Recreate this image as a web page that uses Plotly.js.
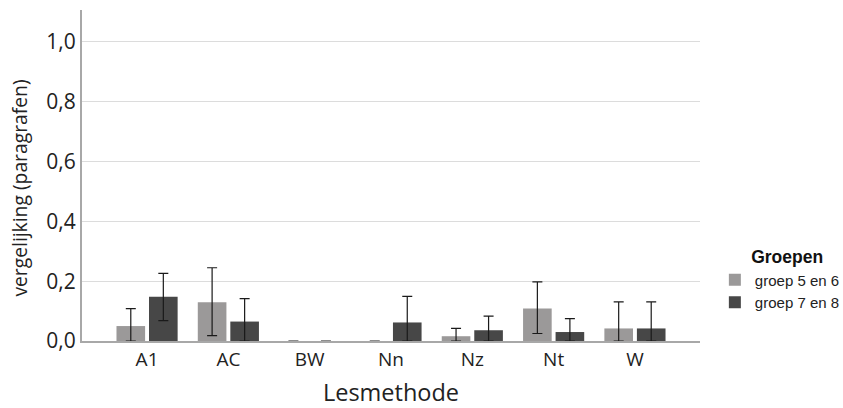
<!DOCTYPE html>
<html>
<head>
<meta charset="utf-8">
<script src="https://cdn.plot.ly/plotly-3.0.1.min.js"></script>
<style>html,body{margin:0;padding:0;background:#fff;}#chart{width:843px;height:408px;}</style>
</head>
<body>
<div id="chart"></div>
<script>
var categories = ["A1", "AC", "BW", "Nn", "Nz", "Nt", "W"];
var seriesNames = ["groep 5 en 6", "groep 7 en 8"];
var groep56 = [0.050, 0.130, 0.000, 0.000, 0.016, 0.109, 0.042];
var groep56Upper = [0.108, 0.245, 0.000, 0.000, 0.042, 0.198, 0.131];
var groep56Lower = [0.000, 0.018, 0.000, 0.000, 0.000, 0.025, 0.000];
var groep78 = [0.148, 0.065, 0.000, 0.062, 0.036, 0.030, 0.042];
var groep78Upper = [0.226, 0.142, 0.000, 0.149, 0.083, 0.075, 0.131];
var groep78Lower = [0.068, 0.000, 0.000, 0.000, 0.000, 0.000, 0.000];
var yTicks = [0, 0.2, 0.4, 0.6, 0.8, 1.0];

function plus(v, u) { return v.map(function (x, i) { return Math.max(0, u[i] - x); }); }
function minus(v, l) { return v.map(function (x, i) { return Math.max(0, x - l[i]); }); }

var errStyle = {color: "#1a1a1a", thickness: 1.2, width: 5};

var traces = [
  {
    type: "bar", name: seriesNames[0], x: categories, y: groep56,
    marker: {color: "#9b9999"},
    error_y: Object.assign({type: "data", symmetric: false, array: plus(groep56, groep56Upper), arrayminus: minus(groep56, groep56Lower)}, errStyle)
  },
  {
    type: "bar", name: seriesNames[1], x: categories, y: groep78,
    marker: {color: "#474747"},
    error_y: Object.assign({type: "data", symmetric: false, array: plus(groep78, groep78Upper), arrayminus: minus(groep78, groep78Lower)}, errStyle)
  }
];

var layout = {
  width: 843, height: 408,
  margin: {l: 82, r: 143, t: 10, b: 67, autoexpand: false},
  paper_bgcolor: "#ffffff", plot_bgcolor: "#ffffff",
  separators: ",.",
  barmode: "group", bargap: 0.2, bargroupgap: 0.12,
  font: {family: "Open Sans, sans-serif", color: "#222222"},
  xaxis: {
    type: "category", range: [-0.8, 6.8],
    showline: true, linecolor: "#a8a8a8", linewidth: 2,
    ticks: "", tickfont: {size: 19, color: "#222222"},
    showgrid: false, zeroline: false, automargin: true,
    title: {text: "Lesmethode", font: {size: 23.5, color: "#222222"}, standoff: 16}
  },
  yaxis: {
    range: [0, 1.107], tickvals: yTicks, tickformat: ".1f",
    showline: true, linecolor: "#a8a8a8", linewidth: 2,
    ticks: "", tickfont: {size: 21, color: "#222222"},
    showgrid: true, gridcolor: "#dcdcdc", gridwidth: 1,
    zeroline: false, automargin: true,
    title: {text: "vergelijking (paragrafen)&nbsp;&nbsp;&nbsp;&nbsp;&nbsp;", font: {size: 19.3, color: "#222222"}, standoff: 14}
  },
  legend: {
    xref: "container", yref: "container",
    x: 0.848, xanchor: "left", y: 0.41, yanchor: "top",
    title: {text: "&nbsp;&nbsp;&nbsp;<b>Groepen</b>", side: "top center", font: {family: "Liberation Sans, Arial, sans-serif", size: 17.5, color: "#111"}},
    font: {family: "Liberation Sans, Arial, sans-serif", size: 15, color: "#222"},
    bgcolor: "rgba(0,0,0,0)", itemwidth: 30, tracegroupgap: 0
  },
  showlegend: true
};

Plotly.newPlot("chart", traces, layout, {displayModeBar: false, staticPlot: true});
</script>
</body>
</html>
